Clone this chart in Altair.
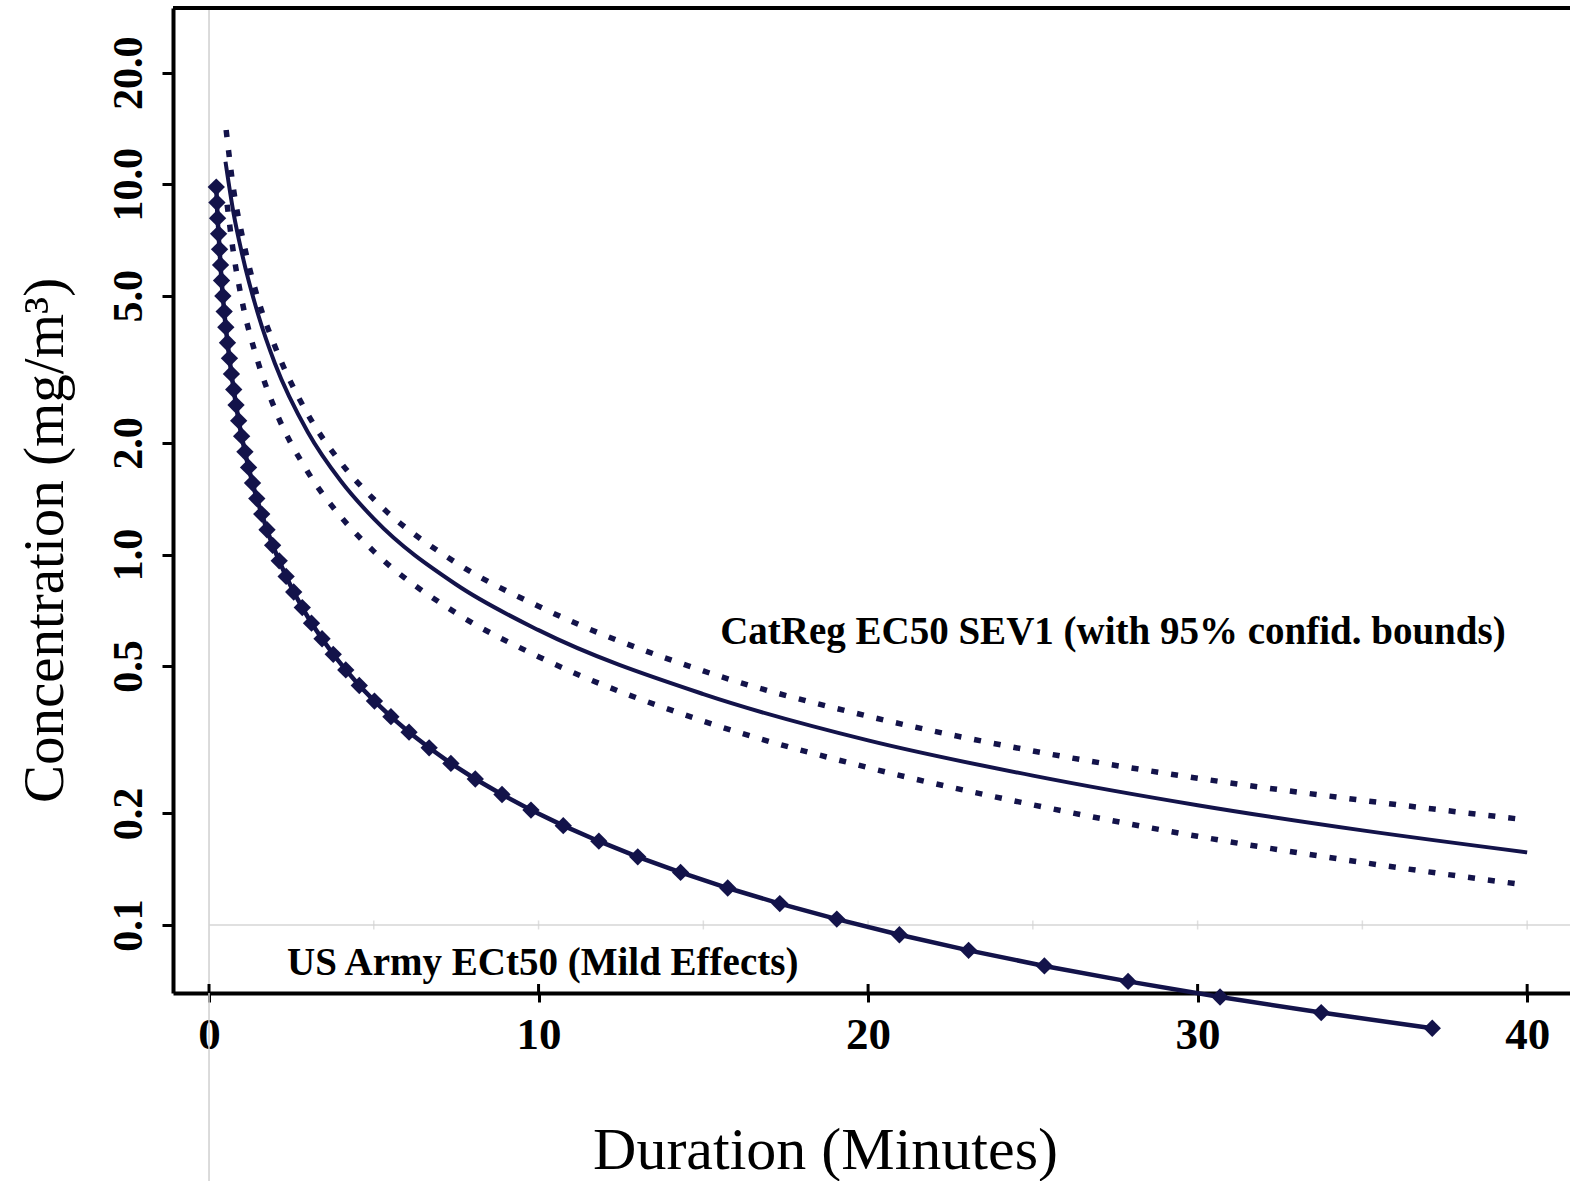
import altair as alt
import pandas as pd

# ---- data ----
army_t = [37.12, 33.75, 30.68, 27.89, 25.35, 23.05, 20.95, 19.05, 17.32, 15.74,
          14.31, 13.01, 11.83, 10.75, 9.77, 8.89, 8.08, 7.34, 6.68, 6.07,
          5.52, 5.02, 4.56, 4.15, 3.77, 3.43, 3.11, 2.83, 2.57, 2.34,
          2.13, 1.93, 1.76, 1.60, 1.45, 1.32, 1.20, 1.09, 0.99, 0.90,
          0.82, 0.75, 0.68, 0.62, 0.56, 0.51, 0.46, 0.42, 0.38, 0.35,
          0.32, 0.29, 0.26, 0.24, 0.22]
army_c = [0.0526, 0.0580, 0.0639, 0.0704, 0.0775, 0.0854, 0.0941, 0.1037, 0.1142, 0.1258,
          0.1386, 0.1527, 0.1683, 0.1854, 0.2042, 0.2250, 0.2478, 0.2730, 0.3008, 0.3314,
          0.3651, 0.4022, 0.4431, 0.4882, 0.5378, 0.5925, 0.6527, 0.7191, 0.7922, 0.8727,
          0.9616, 1.059, 1.167, 1.286, 1.416, 1.560, 1.719, 1.894, 2.087, 2.299,
          2.533, 2.790, 3.074, 3.387, 3.731, 4.111, 4.529, 4.989, 5.495, 6.053,
          6.671, 7.346, 8.094, 8.917, 9.824]

cat_t = [0.5, 0.75, 1.0, 1.5, 2.0, 3.0, 4.0, 5.0, 7.5, 10, 15, 20, 25, 30, 35, 40]
cat_mid = [11.5, 8.3, 6.5, 4.42, 3.28, 2.14, 1.58, 1.25, 0.83, 0.625, 0.42, 0.315, 0.253, 0.2105, 0.180, 0.157]

up_t = [0.52, 0.75, 1.0, 1.5, 2.0, 3.0, 4.0, 5.0, 7.5, 10, 15, 20, 25, 30, 35, 40]
cat_up = [14.0, 9.6, 7.3, 4.85, 3.65, 2.39, 1.77, 1.41, 0.95, 0.725, 0.485, 0.366, 0.295, 0.249, 0.217, 0.192]

lo_t = [0.55, 0.75, 1.0, 1.5, 2.0, 3.0, 4.0, 5.0, 7.5, 10, 15, 20, 25, 30, 35, 40]
cat_lo = [8.8, 6.45, 4.85, 3.28, 2.47, 1.67, 1.265, 1.02, 0.695, 0.53, 0.355, 0.266, 0.211, 0.1735, 0.1475, 0.128]

x_ticks = [0, 10, 20, 30, 40]
y_ticks = [0.1, 0.2, 0.5, 1.0, 2.0, 5.0, 10.0, 20.0]
ref_ticks = [5, 10, 15, 20, 25, 30, 35, 40]   # faint ticks on the 0.1 reference line

label_cat = "CatReg EC50 SEV1 (with 95% confid. bounds)"
label_army = "US Army ECt50 (Mild Effects)"

# ---- layout ----
W, H = 1397, 985
XDOM = [-1.093, 41.30]
YDOM = [0.0655, 29.9]
NAVY = "#13134a"
FONT = "Liberation Serif"

xs = alt.Scale(domain=XDOM, nice=False, zero=False)
ys = alt.Scale(type="log", domain=YDOM, nice=False)

x_axis = alt.Axis(values=x_ticks, format="d", title="Duration (Minutes)", grid=False,
                  domainColor="black", domainWidth=4, tickColor="black", tickWidth=3,
                  tickSize=9, labelPadding=10, labelFontSize=45, labelFontWeight="bold",
                  labelColor="black", labelFont=FONT, titleFont=FONT, titleFontSize=60,
                  titleFontWeight="normal", titleColor="black", titleX=652, titleY=157,
                  titleAlign="center", titleBaseline="middle")
y_axis = alt.Axis(values=y_ticks, format=".1f", title="Concentration (mg/m³)", grid=False,
                  domainColor="black", domainWidth=4, tickColor="black", tickWidth=3,
                  tickSize=11, labelPadding=12, labelFontSize=42, labelFontWeight="bold",
                  labelColor="black", labelFont=FONT, labelAngle=270, labelAlign="center",
                  labelBaseline="bottom", titleFont=FONT, titleFontSize=57,
                  titleFontWeight="normal", titleColor="black", titleAngle=270,
                  titleX=-128, titleY=532, titleAlign="center", titleBaseline="middle")

army = pd.DataFrame({"t": army_t, "c": army_c})
mid = pd.DataFrame({"t": cat_t, "c": cat_mid})
up = pd.DataFrame({"t": up_t, "c": cat_up})
lo = pd.DataFrame({"t": lo_t, "c": cat_lo})
texts = pd.DataFrame({"t": [15.51, 2.37], "c": [0.618, 0.0789], "label": [label_cat, label_army]})

X = alt.X("t:Q", scale=xs, axis=x_axis)
Y = alt.Y("c:Q", scale=ys, axis=y_axis)

vline = alt.Chart(pd.DataFrame({"t": [0]})).mark_rule(color="#cfcfcf", strokeWidth=1.5).encode(
    x=X, y=alt.value(0), y2=alt.value(1173))
hline = alt.Chart(pd.DataFrame({"t": [0], "t2": [41.3], "c": [0.1]})).mark_rule(
    color="#d6d6d6", strokeWidth=1.5).encode(x=X, x2="t2:Q", y=Y)
hticks = alt.Chart(pd.DataFrame({"t": ref_ticks, "c": [0.1] * len(ref_ticks)})).mark_tick(
    color="#d2d2d2", thickness=1.5, size=9, orient="vertical").encode(x=X, y=Y)
inner_ticks = alt.Chart(pd.DataFrame({"t": x_ticks})).mark_rule(color="black", strokeWidth=3).encode(
    x=X, y=alt.value(H - 9), y2=alt.value(H))

mid_line = alt.Chart(mid).mark_line(color=NAVY, strokeWidth=4, interpolate="monotone").encode(x=X, y=Y)
up_line = alt.Chart(up).mark_line(color=NAVY, strokeWidth=5.5, strokeDash=[7, 13],
                                  interpolate="monotone").encode(x=X, y=Y)
lo_line = alt.Chart(lo).mark_line(color=NAVY, strokeWidth=5.5, strokeDash=[7, 13],
                                  interpolate="monotone").encode(x=X, y=Y)
army_line = alt.Chart(army).mark_line(color=NAVY, strokeWidth=4.5).encode(x=X, y=Y)
army_pts = alt.Chart(army).mark_point(shape="diamond", filled=True, color=NAVY, size=300,
                                      opacity=1).encode(x=X, y=Y)
txt = alt.Chart(texts).mark_text(align="left", baseline="middle", font=FONT, fontSize=39,
                                 fontWeight="bold", color="black").encode(x=X, y=Y, text="label:N")
top = alt.Chart(pd.DataFrame({"a": [0]})).mark_rule(color="black", strokeWidth=4).encode(
    x=alt.value(0), x2=alt.value(W), y=alt.value(0))

chart = alt.layer(vline, hline, hticks, inner_ticks, mid_line, up_line, lo_line,
                  army_line, army_pts, txt, top).properties(
    width=W, height=H,
    autosize=alt.AutoSizeParams(type="none"),
    padding={"left": 173, "top": 8, "right": 0, "bottom": 188},
    background="white",
).configure_view(stroke=None)

chart.save("out.html", embed_options={"renderer": "svg", "actions": False})
